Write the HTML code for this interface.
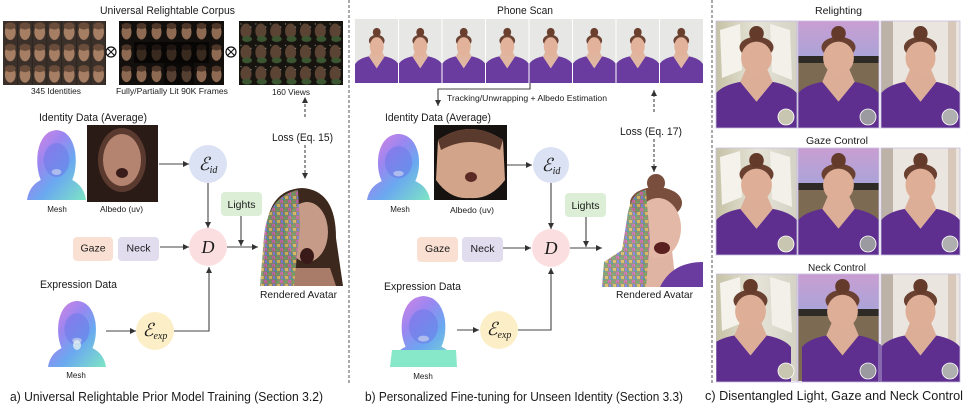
<!DOCTYPE html>
<html><head><meta charset="utf-8"><style>
html,body{margin:0;padding:0;background:#fff;}
svg{display:block;}
text{font-family:"Liberation Sans",Arial,sans-serif;fill:#1a1a1a;}
.s{font-family:"Liberation Serif","DejaVu Serif",serif;font-style:italic;}
</style></head><body>
<svg width="968" height="407" viewBox="0 0 968 407" xmlns="http://www.w3.org/2000/svg">
<defs>
<marker id="ah" viewBox="0 0 8 8" refX="8" refY="4" markerWidth="6" markerHeight="6" markerUnits="userSpaceOnUse" orient="auto"><path d="M0,0 L8,4 L0,8 Z" fill="#333"/></marker>
<linearGradient id="meshg" x1="0" y1="0" x2="1" y2="1">
<stop offset="0" stop-color="#e884e0"/><stop offset="0.35" stop-color="#9a86f0"/><stop offset="0.6" stop-color="#6aa8f0"/><stop offset="1" stop-color="#7ee6c4"/></linearGradient>
<linearGradient id="meshg2" x1="1" y1="0" x2="0" y2="1">
<stop offset="0" stop-color="#80d8f0"/><stop offset="0.4" stop-color="#8c7ef0"/><stop offset="0.7" stop-color="#b080f0"/><stop offset="1" stop-color="#7ee8c8"/></linearGradient>
<pattern id="noise" width="8" height="8" patternUnits="userSpaceOnUse">
<rect width="8" height="8" fill="#8c8a70"/><rect x="0" y="0" width="3" height="3" fill="#c46aa8"/><rect x="4" y="1" width="3" height="2" fill="#6aa860"/><rect x="1" y="4" width="2" height="3" fill="#7c7ce0"/><rect x="5" y="4" width="3" height="3" fill="#d8b860"/><rect x="3" y="6" width="2" height="2" fill="#4a9a9a"/></pattern>
<pattern id="g1" x="3" y="21" width="14.71" height="21.33" patternUnits="userSpaceOnUse">
<rect width="14.71" height="21.33" fill="#3a3029"/><ellipse cx="7.3" cy="11" rx="5.4" ry="8" fill="#a67e64"/><ellipse cx="7.3" cy="5" rx="5.5" ry="3.5" fill="#6a4c3a"/><rect x="14.2" width="0.6" height="21.33" fill="#1e1914"/></pattern>
<pattern id="g2" x="119" y="21" width="15" height="21.33" patternUnits="userSpaceOnUse">
<rect width="15" height="21.33" fill="#120f0c"/><ellipse cx="7.5" cy="11" rx="5" ry="7.5" fill="#8e6a52"/><ellipse cx="7.5" cy="5" rx="5" ry="3" fill="#4e3628"/></pattern>
<pattern id="g3" x="239" y="21" width="14.86" height="21.33" patternUnits="userSpaceOnUse">
<rect width="14.86" height="21.33" fill="#17140f"/><ellipse cx="7" cy="10" rx="5.5" ry="7.5" fill="#5c4434"/><ellipse cx="8" cy="18" rx="5" ry="3" fill="#3c5632"/><circle cx="2" cy="3" r="0.6" fill="#999"/><circle cx="12" cy="6" r="0.6" fill="#999"/></pattern>
<symbol id="p" viewBox="0 0 100 130" preserveAspectRatio="none">
<path d="M0,130 L0,92 Q8,80 32,76 L50,100 L68,76 Q92,80 100,92 L100,130Z" fill="#6b3c9f"/>
<path d="M39,64 L61,64 L68,76 L50,100 L32,76 Z" fill="#e0b6a0"/>
<ellipse cx="50" cy="44" rx="18" ry="12" fill="#6c4434"/>
<circle cx="50" cy="27" r="9" fill="#6a3f2e"/>
<ellipse cx="50" cy="56" rx="16" ry="19" fill="#e2b29a"/>
</symbol>
<symbol id="pc" viewBox="0 0 100 130" preserveAspectRatio="none">
<path d="M0,130 L0,88 Q8,78 30,74 L50,98 L70,74 Q92,78 100,88 L100,130Z" fill="#5e2f8e"/>
<path d="M37,58 L63,58 L70,74 L50,98 L30,74 Z" fill="#dcae98"/>
<ellipse cx="50" cy="32" rx="21" ry="13" fill="#6a4030"/>
<circle cx="50" cy="15" r="9" fill="#643a2a"/>
<ellipse cx="50" cy="45" rx="19" ry="20" fill="#deae96"/>
</symbol>
<symbol id="mesh" viewBox="0 0 60 72" preserveAspectRatio="none">
<path d="M0,72 Q2,58 14,52 Q9,40 11,24 Q15,3 30,2 Q45,3 49,24 Q51,40 46,52 Q58,58 60,72 Z" fill="url(#meshg)"/>
<ellipse cx="30" cy="32" rx="13" ry="17" fill="#6c78e8" opacity="0.55"/>
<ellipse cx="30" cy="44" rx="5" ry="3" fill="#c8d0f0" opacity="0.7"/>
</symbol>
<linearGradient id="sky" x1="0" y1="0" x2="0" y2="1"><stop offset="0" stop-color="#c99ed2"/><stop offset="1" stop-color="#a9a4d8"/></linearGradient>
<linearGradient id="win" x1="0" y1="0" x2="1" y2="0"><stop offset="0" stop-color="#c6c2a6"/><stop offset="0.5" stop-color="#e6e4d8"/><stop offset="1" stop-color="#d4d2c4"/></linearGradient>
</defs>

<!-- separators -->
<line x1="349" y1="0" x2="349" y2="384" stroke="#555" stroke-dasharray="3,2"/>
<line x1="712" y1="0" x2="712" y2="384" stroke="#555" stroke-dasharray="3,2"/>

<!-- ===== Panel a ===== -->
<text x="100" y="14" font-size="11" textLength="135" lengthAdjust="spacingAndGlyphs">Universal Relightable Corpus</text>
<rect x="3" y="21" width="103" height="64" fill="url(#g1)"/>
<rect x="119" y="21" width="105" height="64" fill="url(#g2)"/>
<rect x="134" y="42" width="75" height="21" fill="#000" opacity="0.6"/>
<rect x="164" y="63" width="30" height="22" fill="#000" opacity="0.4"/>
<rect x="239" y="21" width="104" height="64" fill="url(#g3)"/>
<circle cx="111" cy="52" r="5" fill="none" stroke="#111" stroke-width="1.2"/>
<path d="M107.5,48.5 L114.5,55.5 M114.5,48.5 L107.5,55.5" stroke="#111" stroke-width="1.1"/>
<circle cx="231" cy="52" r="5" fill="none" stroke="#111" stroke-width="1.2"/>
<path d="M227.5,48.5 L234.5,55.5 M234.5,48.5 L227.5,55.5" stroke="#111" stroke-width="1.1"/>
<text x="31" y="94" font-size="8.5" textLength="50" lengthAdjust="spacingAndGlyphs">345 Identities</text>
<text x="116" y="94" font-size="8.5" textLength="112" lengthAdjust="spacingAndGlyphs">Fully/Partially Lit 90K Frames</text>
<text x="272" y="95" font-size="8.5" textLength="38" lengthAdjust="spacingAndGlyphs">160 Views</text>

<text x="39" y="121" font-size="11" textLength="108" lengthAdjust="spacingAndGlyphs">Identity Data (Average)</text>
<use href="#mesh" x="27" y="128" width="59" height="72"/>
<rect x="87" y="125" width="71" height="77" fill="#2a1b17"/>
<ellipse cx="122" cy="160" rx="24" ry="32" fill="#5a3a2e"/>
<ellipse cx="122" cy="160" rx="19" ry="26" fill="#b48470"/>
<ellipse cx="122" cy="173" rx="6" ry="5" fill="#3a1c1a"/>
<text x="57" y="212" font-size="8" text-anchor="middle">Mesh</text>
<text x="100" y="212" font-size="8" textLength="43" lengthAdjust="spacingAndGlyphs">Albedo (uv)</text>

<line x1="159" y1="164" x2="189" y2="164" stroke="#444" stroke-width="1.1" marker-end="url(#ah)"/>
<circle cx="208" cy="164" r="19" fill="#dae2f3"/>
<text x="208" y="170" text-anchor="middle" class="s"><tspan font-size="18">ℰ</tspan><tspan font-size="10" dy="3">id</tspan></text>
<line x1="208" y1="183" x2="208" y2="228" stroke="#444" stroke-width="1.1" marker-end="url(#ah)"/>
<rect x="221" y="192" width="41" height="24" rx="4" fill="#dcefd6"/>
<text x="241.5" y="208" font-size="10.5" text-anchor="middle">Lights</text>
<rect x="73" y="237" width="40" height="24" rx="4" fill="#f9e0d3"/>
<text x="93" y="251.5" font-size="10.5" text-anchor="middle">Gaze</text>
<rect x="118" y="237" width="41" height="24" rx="4" fill="#e1ddef"/>
<text x="138.5" y="251.5" font-size="10.5" text-anchor="middle">Neck</text>
<line x1="160" y1="247" x2="189" y2="247" stroke="#444" stroke-width="1.1" marker-end="url(#ah)"/>
<circle cx="208" cy="247" r="19" fill="#fbdfe0"/>
<text x="208" y="253" text-anchor="middle" class="s" font-size="18">D</text>
<line x1="227" y1="247" x2="258" y2="247" stroke="#444" stroke-width="1.1" marker-end="url(#ah)"/>
<line x1="241" y1="216" x2="241" y2="246" stroke="#444" stroke-width="1.1" marker-end="url(#ah)"/>

<text x="40" y="288" font-size="11" textLength="77" lengthAdjust="spacingAndGlyphs">Expression Data</text>
<use href="#mesh" x="48" y="299" width="58" height="68"/>
<ellipse cx="77" cy="345" rx="4" ry="5" fill="#e0f0f0" opacity="0.8"/>
<text x="76" y="378" font-size="8" text-anchor="middle">Mesh</text>
<line x1="106" y1="331" x2="136" y2="331" stroke="#444" stroke-width="1.1" marker-end="url(#ah)"/>
<circle cx="155" cy="331" r="19" fill="#fcefc8"/>
<text x="155" y="336" text-anchor="middle" class="s"><tspan font-size="18">ℰ</tspan><tspan font-size="10" dy="3">exp</tspan></text>
<polyline points="174,331 209,331 209,267" fill="none" stroke="#444" stroke-width="1.1" marker-end="url(#ah)"/>

<!-- rendered avatar a -->
<path d="M262,286 L266,238 Q266,190 302,188 Q336,190 336,238 L343,286 Z" fill="#3c281c"/>
<path d="M276,286 L282,268 L330,268 L336,286 Z" fill="#a87c68"/>
<ellipse cx="307" cy="232" rx="21" ry="30" fill="#c69c88"/>
<ellipse cx="307" cy="256" rx="7" ry="8" fill="#3a1a18"/>
<path d="M260,286 L264,236 Q268,196 298,190 L300,226 L294,286 Z" fill="url(#noise)" opacity="0.9"/>
<text x="260" y="298" font-size="10.5" textLength="77" lengthAdjust="spacingAndGlyphs">Rendered Avatar</text>

<line x1="305" y1="117" x2="305" y2="97" stroke="#444" stroke-dasharray="3,2" stroke-width="1.1" marker-end="url(#ah)"/>
<text x="272" y="141" font-size="11" textLength="61" lengthAdjust="spacingAndGlyphs">Loss (Eq. 15)</text>
<line x1="305" y1="145" x2="305" y2="179" stroke="#444" stroke-dasharray="3,2" stroke-width="1.1" marker-end="url(#ah)"/>

<text x="10" y="401" font-size="13" textLength="313" lengthAdjust="spacingAndGlyphs">a) Universal Relightable Prior Model Training (Section 3.2)</text>

<!-- ===== Panel b ===== -->
<text x="497" y="14" font-size="11" textLength="56" lengthAdjust="spacingAndGlyphs">Phone Scan</text>
<rect x="355" y="19" width="348" height="64" fill="#e7e7e5"/>
<use href="#p" x="355" y="19" width="43.5" height="64"/>
<use href="#p" x="398.5" y="19" width="43.5" height="64"/>
<use href="#p" x="442" y="19" width="43.5" height="64"/>
<use href="#p" x="485.5" y="19" width="43.5" height="64"/>
<use href="#p" x="529" y="19" width="43.5" height="64"/>
<use href="#p" x="572.5" y="19" width="43.5" height="64"/>
<use href="#p" x="616" y="19" width="43.5" height="64"/>
<use href="#p" x="659.5" y="19" width="43.5" height="64"/>
<g fill="#fff"><rect x="398" y="19" width="1" height="64"/><rect x="441.5" y="19" width="1" height="64"/><rect x="485" y="19" width="1" height="64"/><rect x="528.5" y="19" width="1" height="64"/><rect x="572" y="19" width="1" height="64"/><rect x="615.5" y="19" width="1" height="64"/><rect x="659" y="19" width="1" height="64"/></g>

<polyline points="530,83 530,89 438,89 438,106" fill="none" stroke="#444" stroke-width="1.1" marker-end="url(#ah)"/>
<text x="447" y="101" font-size="8.5" textLength="160" lengthAdjust="spacingAndGlyphs">Tracking/Unwrapping + Albedo Estimation</text>
<text x="385" y="121" font-size="11" textLength="106" lengthAdjust="spacingAndGlyphs">Identity Data (Average)</text>
<use href="#mesh" x="367" y="132" width="63" height="68"/>
<rect x="434" y="125" width="73" height="75" fill="#161210"/>
<path d="M438,140 Q470,118 503,140 L505,180 Q490,200 470,198 Q450,200 436,180 Z" fill="#d2a48a"/>
<path d="M438,140 Q470,118 503,140 L500,150 Q470,134 441,150 Z" fill="#5a3a2c"/>
<ellipse cx="471" cy="177" rx="6" ry="5" fill="#5a2a24"/>
<text x="400" y="212" font-size="8" text-anchor="middle">Mesh</text>
<text x="450" y="213" font-size="8" textLength="44" lengthAdjust="spacingAndGlyphs">Albedo (uv)</text>

<line x1="507" y1="165" x2="532" y2="165" stroke="#444" stroke-width="1.1" marker-end="url(#ah)"/>
<circle cx="551" cy="165" r="18" fill="#dae2f3"/>
<text x="551" y="171" text-anchor="middle" class="s"><tspan font-size="18">ℰ</tspan><tspan font-size="10" dy="3">id</tspan></text>
<line x1="551" y1="183" x2="551" y2="229" stroke="#444" stroke-width="1.1" marker-end="url(#ah)"/>
<rect x="565" y="193" width="41" height="24" rx="4" fill="#dcefd6"/>
<text x="585.5" y="209" font-size="10.5" text-anchor="middle">Lights</text>
<rect x="417" y="237" width="41" height="25" rx="4" fill="#f9e0d3"/>
<text x="437.5" y="252" font-size="10.5" text-anchor="middle">Gaze</text>
<rect x="462" y="237" width="41" height="25" rx="4" fill="#e1ddef"/>
<text x="482.5" y="252" font-size="10.5" text-anchor="middle">Neck</text>
<line x1="503" y1="248" x2="531" y2="248" stroke="#444" stroke-width="1.1" marker-end="url(#ah)"/>
<circle cx="551" cy="248" r="19" fill="#fbdfe0"/>
<text x="551" y="254" text-anchor="middle" class="s" font-size="18">D</text>
<line x1="570" y1="248" x2="602" y2="248" stroke="#444" stroke-width="1.1" marker-end="url(#ah)"/>
<line x1="586" y1="217" x2="586" y2="247" stroke="#444" stroke-width="1.1" marker-end="url(#ah)"/>

<text x="384" y="290" font-size="11" textLength="77" lengthAdjust="spacingAndGlyphs">Expression Data</text>
<use href="#mesh" x="390" y="294" width="67" height="73"/>
<path d="M390,367 L392,350 L456,350 L457,367 Z" fill="#86e8c8"/>
<text x="423" y="379" font-size="8" text-anchor="middle">Mesh</text>
<line x1="457" y1="330" x2="479" y2="330" stroke="#444" stroke-width="1.1" marker-end="url(#ah)"/>
<circle cx="499" cy="330" r="19" fill="#fcefc8"/>
<text x="499" y="335" text-anchor="middle" class="s"><tspan font-size="18">ℰ</tspan><tspan font-size="10" dy="3">exp</tspan></text>
<polyline points="518,330 551,330 551,268" fill="none" stroke="#444" stroke-width="1.1" marker-end="url(#ah)"/>

<!-- rendered avatar b -->
<circle cx="656" cy="183" r="9" fill="#7a4e3c"/>
<ellipse cx="656" cy="203" rx="26" ry="16" fill="#7a4e3c"/>
<path d="M640,287 L642,250 L672,250 L676,287 Z" fill="#e0b4a2"/>
<path d="M660,287 Q672,262 703,262 L703,287 Z" fill="#6a3c9f"/>
<ellipse cx="658" cy="228" rx="23" ry="30" fill="#e4b8a6"/>
<ellipse cx="662" cy="248" rx="8" ry="6" fill="#5a2020"/>
<path d="M602,287 L604,262 L622,250 L628,212 Q632,192 646,190 L650,240 L646,287 Z" fill="url(#noise)" opacity="0.9"/>
<text x="616" y="298" font-size="10.5" textLength="77" lengthAdjust="spacingAndGlyphs">Rendered Avatar</text>

<line x1="654" y1="112" x2="654" y2="90" stroke="#444" stroke-dasharray="3,2" stroke-width="1.1" marker-end="url(#ah)"/>
<text x="620" y="135" font-size="11" textLength="62" lengthAdjust="spacingAndGlyphs">Loss (Eq. 17)</text>
<line x1="654" y1="139" x2="654" y2="172" stroke="#444" stroke-dasharray="3,2" stroke-width="1.1" marker-end="url(#ah)"/>

<text x="365" y="401" font-size="13" textLength="318" lengthAdjust="spacingAndGlyphs">b) Personalized Fine-tuning for Unseen Identity (Section 3.3)</text>

<!-- ===== Panel c ===== -->
<text x="815" y="14" font-size="10.5" textLength="47" lengthAdjust="spacingAndGlyphs">Relighting</text>
<text x="806" y="144" font-size="10.5" textLength="62" lengthAdjust="spacingAndGlyphs">Gaze Control</text>
<text x="808" y="271" font-size="10.5" textLength="58" lengthAdjust="spacingAndGlyphs">Neck Control</text>

<!-- backgrounds per column for 3 rows -->
<g id="rowbg">
<rect x="716" y="21" width="81" height="107" fill="url(#win)"/>
<path d="M720,30 L740,24 L742,70 L722,78 Z" fill="#f4f2ea"/>
<path d="M770,24 L790,30 L792,80 L772,72 Z" fill="#f2f0e8"/>
<rect x="798" y="21" width="81" height="38" fill="url(#sky)"/>
<rect x="798" y="56" width="81" height="7" fill="#2e2a26"/>
<rect x="798" y="63" width="81" height="65" fill="#7c6a52"/>
<rect x="881" y="21" width="79" height="107" fill="#ebe5df"/>
<rect x="881" y="21" width="12" height="107" fill="#bdb2a8"/>
<rect x="948" y="21" width="8" height="107" fill="#d8c8ba"/>
</g>
<use href="#rowbg" y="127"/>
<use href="#rowbg" y="253"/>

<use href="#pc" x="716" y="21" width="81" height="107"/>
<use href="#pc" x="798" y="21" width="81" height="107"/>
<use href="#pc" x="881" y="21" width="79" height="107"/>
<use href="#pc" x="716" y="148" width="81" height="107"/>
<use href="#pc" x="798" y="148" width="81" height="107"/>
<use href="#pc" x="881" y="148" width="79" height="107"/>
<use href="#pc" x="710" y="274" width="81" height="108"/>
<use href="#pc" x="802" y="274" width="81" height="108"/>
<use href="#pc" x="881" y="274" width="79" height="108"/>

<g stroke="#c8bede" stroke-width="0.8" fill="none">
<rect x="716" y="21" width="81" height="107"/><rect x="798" y="21" width="81" height="107"/><rect x="881" y="21" width="79" height="107"/>
<rect x="716" y="148" width="81" height="107"/><rect x="798" y="148" width="81" height="107"/><rect x="881" y="148" width="79" height="107"/>
<rect x="716" y="274" width="81" height="108"/><rect x="798" y="274" width="81" height="108"/><rect x="881" y="274" width="79" height="108"/>
</g>
<rect x="704" y="274" width="12" height="108" fill="#fff"/>
<g>
<circle cx="786" cy="117" r="8" fill="#c8c6b0" stroke="#fff" stroke-width="0.8"/>
<circle cx="868" cy="117" r="8" fill="#9a9aa0" stroke="#fff" stroke-width="0.8"/>
<circle cx="950" cy="117" r="8" fill="#b0b0b0" stroke="#fff" stroke-width="0.8"/>
<circle cx="786" cy="244" r="8" fill="#c8c6b0" stroke="#fff" stroke-width="0.8"/>
<circle cx="868" cy="244" r="8" fill="#9a9aa0" stroke="#fff" stroke-width="0.8"/>
<circle cx="950" cy="244" r="8" fill="#b0b0b0" stroke="#fff" stroke-width="0.8"/>
<circle cx="786" cy="371" r="8" fill="#c8c6b0" stroke="#fff" stroke-width="0.8"/>
<circle cx="868" cy="371" r="8" fill="#9a9aa0" stroke="#fff" stroke-width="0.8"/>
<circle cx="950" cy="371" r="8" fill="#b0b0b0" stroke="#fff" stroke-width="0.8"/>
</g>
<line x1="712" y1="0" x2="712" y2="384" stroke="#555" stroke-dasharray="3,2"/>

<text x="705" y="400" font-size="13" textLength="258" lengthAdjust="spacingAndGlyphs">c) Disentangled Light, Gaze and Neck Control</text>
</svg>
</body></html>
